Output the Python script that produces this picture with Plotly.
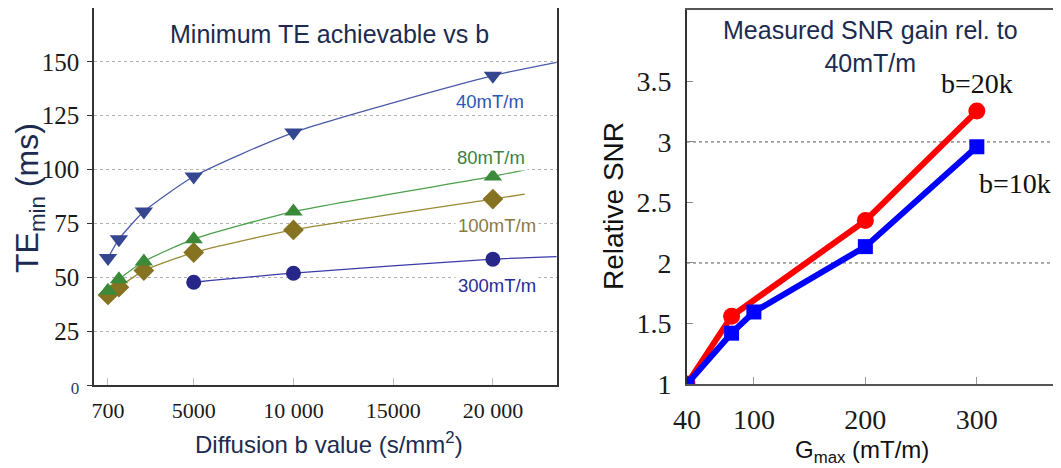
import plotly.graph_objects as go

# page body has an 8px margin; the figure is sized so that it fills the 1061x468 window
OFF = 8
W, H = 1061 - OFF, 468 - OFF

# ---------------- Left chart data ----------------
B_VALUES = [700, 1250, 2500, 5000, 10000, 20000]
TE_40 = [58.9, 67.7, 80.5, 96.8, 117.2, 143.6]
TE_80 = [43.7, 49.1, 57.3, 67.7, 80.5, 96.8]
TE_100 = [41.8, 45.4, 53.1, 61.5, 72.0, 86.3]
B_300 = [5000, 10000, 20000]
TE_300 = [47.7, 51.9, 58.4]
# end points of the fitted trend lines
TREND_END_B = [23200, 21600, 21600, 23200]
TREND_END_TE = [149.8, 99.9, 88.6, 59.6]
SERIES_NAMES = ["40mT/m", "80mT/m", "100mT/m", "300mT/m"]

LEFT_XTICKS = [700, 5000, 10000, 15000, 20000]
LEFT_XTICKTEXT = ["700", "5000", "10 000", "15000", "20 000"]
LEFT_YTICKS = [0, 25, 50, 75, 100, 125, 150]

# ---------------- Right chart data ----------------
G_20K = [40, 80, 200, 300]
SNR_20K = [1.0, 1.56, 2.35, 3.255]
G_10K = [40, 80, 100, 200, 300]
SNR_10K = [1.0, 1.42, 1.595, 2.135, 2.96]
RIGHT_XTICKS = [40, 100, 200, 300]
RIGHT_YTICKS = [1, 1.5, 2, 2.5, 3, 3.5]
RIGHT_GRID = [2, 3]

SANS = "Liberation Sans, Arial, sans-serif"
SERIF = "Liberation Serif, Times New Roman, serif"
NAVY = "#1c2b4f"


def fx(x):
    return (x - OFF) / W


def fy(y):
    return 1 - (y - OFF) / H


fig = go.Figure()

line_cols = ["#4a5aa8", "#4aa04a", "#9a8a35", "#3a3aa8"]
mark_cols = ["#34468f", "#3a8a3a", "#857321", "#27278a"]
symbols = ["triangle-down", "triangle-up", "diamond", "circle"]
sizes = [16, 16, 16, 15]
xs = [B_VALUES, B_VALUES, B_VALUES, B_300]
ys = [TE_40, TE_80, TE_100, TE_300]

order = [3, 2, 1, 0]
for i in order:
    fig.add_trace(go.Scatter(
        x=list(xs[i]) + [TREND_END_B[i]], y=list(ys[i]) + [TREND_END_TE[i]],
        mode="lines", line=dict(color=line_cols[i], width=1.3, shape="spline", smoothing=0.6),
        xaxis="x", yaxis="y", showlegend=False, hoverinfo="skip"))
for i in order:
    fig.add_trace(go.Scatter(
        x=xs[i], y=ys[i], mode="markers", name=SERIES_NAMES[i],
        marker=dict(symbol=symbols[i], size=sizes[i], color=mark_cols[i], line=dict(width=0)),
        xaxis="x", yaxis="y", showlegend=False))

# right chart
fig.add_trace(go.Scatter(
    x=G_20K, y=SNR_20K, mode="lines+markers", name="b=20k",
    line=dict(color="#ff0000", width=6),
    marker=dict(symbol="circle", size=17, color="#ff0000"),
    xaxis="x2", yaxis="y2", showlegend=False))
fig.add_trace(go.Scatter(
    x=G_10K, y=SNR_10K, mode="lines+markers", name="b=10k",
    line=dict(color="#0000ff", width=6),
    marker=dict(symbol="square", size=15, color="#0000ff"),
    xaxis="x2", yaxis="y2", showlegend=False))

for g in RIGHT_GRID:
    fig.add_shape(type="line", xref="x2 domain", yref="y2", x0=0, x1=1, y0=g, y1=g,
                  line=dict(color="#555", width=1, dash="dot"), layer="below")

ytext_left = ["<span style='font-size:17px;color:#2a3a70'>0</span>"] + [str(v) for v in LEFT_YTICKS[1:]]

fig.update_layout(
    width=W, height=H, margin=dict(l=0, r=0, t=0, b=0, pad=0, autoexpand=False),
    paper_bgcolor="white", plot_bgcolor="white",
    xaxis=dict(domain=[fx(94), fx(556.7)], range=[0, 23200], automargin=False,
               tickvals=LEFT_XTICKS, ticktext=LEFT_XTICKTEXT,
               tickfont=dict(family=SERIF, size=22, color="#1a1a1a"),
               ticks="inside", ticklen=7, tickcolor="#bbb",
               showgrid=False, zeroline=False, showline=True, mirror=True,
               linecolor="#333", linewidth=1.5, ticklabelstandoff=5),
    yaxis=dict(domain=[fy(385), min(1.0, fy(8))], range=[0, 175], automargin=False,
               tickvals=LEFT_YTICKS, ticktext=ytext_left,
               tickfont=dict(family=SERIF, size=25, color="#1a1a1a"),
               ticks="outside", ticklen=5, tickcolor="#333",
               showgrid=True, gridcolor="#b0b0b0", griddash="dot", gridwidth=1,
               zeroline=False, showline=True, mirror=True,
               linecolor="#333", linewidth=1.5, ticklabelstandoff=3),
    xaxis2=dict(domain=[fx(687), 1.0], range=[40, 375.5], anchor="y2", automargin=False,
                tickvals=RIGHT_XTICKS,
                tickfont=dict(family=SERIF, size=28, color="#1a1a1a"),
                ticks="inside", ticklen=7, tickcolor="#999",
                showgrid=False, zeroline=False, showline=True, mirror=True,
                linecolor="#555", linewidth=2, ticklabelstandoff=9),
    yaxis2=dict(domain=[fy(384), fy(10)], range=[1, 4.09], anchor="x2", automargin=False,
                tickvals=RIGHT_YTICKS, ticktext=["1", "1.5", "2", "2.5", "3", "3.5"],
                tickfont=dict(family=SERIF, size=28, color="#1a1a1a"),
                ticks="inside", ticklen=6, tickcolor="#888",
                showgrid=False, zeroline=False, showline=True, mirror=False,
                linecolor="#333", linewidth=2, ticklabelstandoff=8),
)

ann = []


def add_text(text, x, y, size, color, family=SANS, angle=0, bg=None):
    d = dict(text=text, x=fx(x), y=fy(y), xref="paper", yref="paper", showarrow=False,
             xanchor="center", yanchor="middle", textangle=angle,
             font=dict(family=family, size=size, color=color))
    if bg:
        d["bgcolor"] = bg
        d["borderpad"] = 2
    ann.append(d)


add_text("Minimum TE achievable vs b", 329, 34, 25, NAVY)
add_text("TE<sub>min</sub> (ms)", 29, 198, 32, NAVY, angle=-90)
add_text("Diffusion b value (s/mm<sup>2</sup>)", 329, 443, 24, NAVY)
label_pos = [(490, 101), (491, 157), (497, 226), (497, 285)]
label_cols = ["#2b58b8", "#3f7f3f", "#8a7a45", "#2a2a9a"]
for i, name in enumerate(SERIES_NAMES):
    add_text(name, label_pos[i][0], label_pos[i][1], 18.5, label_cols[i], bg="white")

add_text("Measured SNR gain rel. to<br>40mT/m", 870, 47, 25, NAVY)
add_text("Relative SNR", 614, 206, 28, "#111", angle=-90)
add_text("G<sub>max</sub> (mT/m)", 862, 451, 24, "#111")
add_text("b=20k", 977, 83, 28, "#111", family=SERIF)
add_text("b=10k", 1015, 183, 28, "#111", family=SERIF)

fig.update_layout(annotations=ann)

fig.write_html("out.html")
